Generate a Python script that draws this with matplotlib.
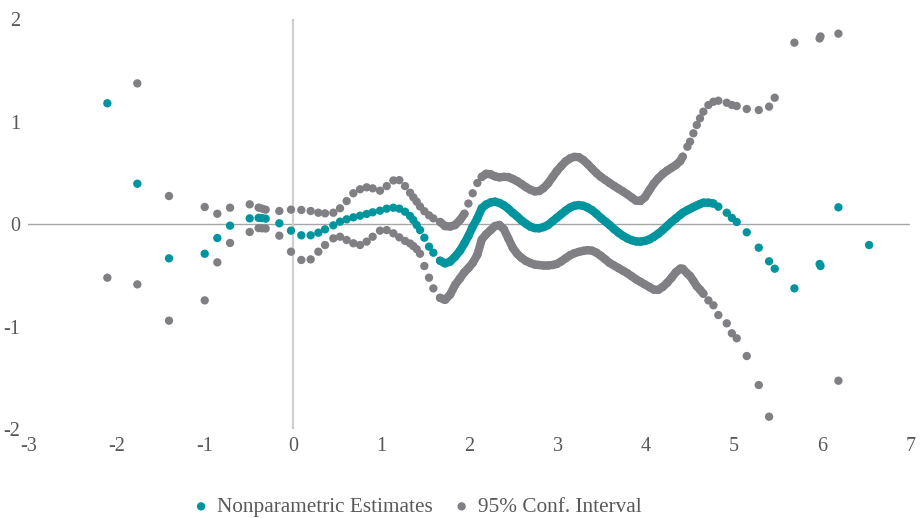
import numpy as np
import matplotlib.pyplot as plt

# x positions of the kernel-regression grid
x_vals = [
    -2.105, -1.765, -1.406, -1.001, -0.858, -0.714, -0.491, -0.39, -0.35, -0.31, -0.155, -0.023,
    0.094, 0.2, 0.287, 0.363, 0.457, 0.533, 0.608, 0.684, 0.76, 0.835, 0.903, 0.986,
    1.062, 1.138, 1.205, 1.27, 1.327, 1.364, 1.402, 1.44, 1.489, 1.542, 1.591, 1.667,
    1.723, 1.78, 1.837, 1.893, 1.943, 1.988, 2.037, 2.09,
    2.14, 2.19, 2.24, 2.29, 2.34, 2.39, 2.44, 2.49, 2.54, 2.59, 2.64, 2.69, 2.74, 2.79,
    2.84, 2.89, 2.94, 2.99, 3.04, 3.09, 3.14, 3.19, 3.24, 3.29, 3.34, 3.39, 3.44, 3.49,
    3.54, 3.59, 3.64, 3.69, 3.74, 3.79, 3.84, 3.89, 3.94, 3.99, 4.04, 4.09, 4.14, 4.19,
    4.24, 4.29, 4.34, 4.39,
    4.418, 4.471, 4.501, 4.539, 4.577, 4.614, 4.652, 4.709, 4.766,
    4.822, 4.917, 4.975, 5.03, 5.144, 5.28, 5.397, 5.461, 5.684, 5.97, 5.98, 6.183, 6.531,
]

estimates = [
    1.178, 0.393, -0.335, -0.29, -0.137, -0.016, 0.055, 0.06, 0.058, 0.052, 0.007, -0.065,
    -0.11, -0.11, -0.085, -0.052, -0.013, 0.023, 0.046, 0.065, 0.081, 0.098, 0.114, 0.13,
    0.15, 0.159, 0.15, 0.12, 0.078, 0.039, -0.01, -0.059, -0.134, -0.221, -0.28, -0.358,
    -0.384, -0.367, -0.319, -0.26, -0.188, -0.117, -0.026, 0.056,
    0.155, 0.19, 0.21, 0.218, 0.205, 0.183, 0.15, 0.11, 0.075, 0.035, 0.003, -0.025, -0.04, -0.042,
    -0.03, -0.01, 0.025, 0.06, 0.095, 0.13, 0.16, 0.178, 0.185, 0.178, 0.16, 0.135, 0.1, 0.06,
    0.025, -0.01, -0.05, -0.085, -0.115, -0.14, -0.158, -0.17, -0.172, -0.165, -0.15, -0.125, -0.095, -0.06,
    -0.02, 0.02, 0.055, 0.09,
    0.11, 0.135, 0.148, 0.165, 0.18, 0.195, 0.208, 0.208, 0.2,
    0.169, 0.11, 0.06, 0.02, -0.081, -0.231, -0.364, -0.436, -0.628, -0.39, -0.41, 0.163, -0.205,
]

ci_upper = [
    np.nan, 1.372, 0.273, 0.166, 0.1, 0.159, 0.192, 0.16, 0.15, 0.14, 0.127, 0.14,
    0.137, 0.127, 0.11, 0.104, 0.11, 0.153, 0.224, 0.3, 0.339, 0.358, 0.348, 0.325,
    0.37, 0.425, 0.428, 0.37, 0.305, 0.26, 0.218, 0.17, 0.125, 0.085, 0.055, 0.02,
    -0.02, -0.025, -0.01, 0.039, 0.1, 0.2, 0.3, 0.4,
    0.46, 0.49, 0.485, 0.465, 0.455, 0.46, 0.458, 0.44, 0.418, 0.39, 0.36, 0.335, 0.318, 0.322,
    0.35, 0.395, 0.455, 0.515, 0.565, 0.61, 0.64, 0.655, 0.652, 0.625, 0.585, 0.54, 0.497, 0.46,
    0.43, 0.4, 0.372, 0.345, 0.318, 0.29, 0.258, 0.228, 0.225, 0.262, 0.33, 0.395, 0.445, 0.487,
    0.52, 0.548, 0.575, 0.615,
    0.657, 0.754, 0.803, 0.885, 0.966, 1.031, 1.096, 1.161, 1.193,
    1.203, 1.183, 1.161, 1.151, 1.122, 1.112, 1.145, 1.232, 1.769, 1.81, 1.83, 1.857, np.nan,
]

ci_lower = [
    -0.524, -0.589, -0.943, -0.745, -0.374, -0.185, -0.078, -0.04, -0.042, -0.044, -0.114, -0.27,
    -0.351, -0.345, -0.27, -0.205, -0.14, -0.124, -0.156, -0.188, -0.205, -0.172, -0.124, -0.065,
    -0.059, -0.091, -0.13, -0.165, -0.19, -0.215, -0.245, -0.29, -0.41, -0.524, -0.628, -0.72,
    -0.74, -0.69, -0.595, -0.53, -0.47, -0.43, -0.38, -0.3,
    -0.15, -0.1, -0.06, -0.02, -0.01, -0.05, -0.14, -0.23, -0.29, -0.33, -0.36, -0.38, -0.395, -0.4,
    -0.405, -0.405, -0.4, -0.39, -0.365, -0.335, -0.305, -0.285, -0.272, -0.262, -0.255, -0.26, -0.28, -0.31,
    -0.345, -0.38, -0.405, -0.43, -0.455, -0.48, -0.51, -0.54, -0.565, -0.59, -0.615, -0.64, -0.642, -0.615,
    -0.575, -0.525, -0.47, -0.435,
    -0.437, -0.484, -0.507, -0.555, -0.606, -0.641, -0.68, -0.745, -0.793,
    -0.888, -0.969, -1.066, -1.115, -1.288, -1.571, -1.88, np.nan, np.nan, np.nan, np.nan, -1.529, np.nan,
]

x_ticks = [-3, -2, -1, 0, 1, 2, 3, 4, 5, 6, 7]
y_ticks = [-2, -1, 0, 1, 2]

TEAL = "#00959E"
GRAY = "#808084"
TEXT = "#595959"
DOT = 36   # marker area, pt^2
BAND = 6.0  # width of the dense stretch, pt

plt.rcParams["font.family"] = ["Liberation Serif", "DejaVu Serif"]
plt.rcParams["axes.unicode_minus"] = False

fig = plt.figure(figsize=(9.22, 5.18), dpi=100)
ax = fig.add_axes([0.0308, 0.1718, 0.9567, 0.7915])

x = np.array(x_vals)
upper = np.array(ci_upper)
lower = np.array(ci_lower)
est = np.array(estimates)


def band(lo, hi, y, color, z):
    # where the grid is dense the dots merge into a solid band
    m = (x >= lo) & (x <= hi)
    ax.plot(x[m], y[m], color=color, lw=BAND, solid_capstyle="round", zorder=z)


band(1.6, 1.95, upper, GRAY, 2)
band(2.1, 4.42, upper, GRAY, 2)
band(1.66, 4.67, lower, GRAY, 2)
band(1.66, 4.8, est, TEAL, 3)

ax.scatter(x, upper, s=DOT, color=GRAY, edgecolors="none", zorder=2,
           label="95% Conf. Interval")
ax.scatter(x, lower, s=DOT, color=GRAY, edgecolors="none", zorder=2)
ax.scatter(x, est, s=DOT, color=TEAL, edgecolors="none", zorder=4,
           label="Nonparametric Estimates")

# axis lines crossing at the origin
ax.axhline(0, color="#A6A6A6", lw=1.0, zorder=1)
ax.axvline(0, color="#CFCFCF", lw=1.6, zorder=1)

ax.set_xlim(-3, 7)
ax.set_ylim(-2, 2)
ax.set_xticks(x_ticks)
ax.set_yticks(y_ticks)
ax.tick_params(length=0, labelsize=14.5, labelcolor=TEXT, pad=6)
for s in ax.spines.values():
    s.set_visible(False)

handles, labels = ax.get_legend_handles_labels()
fig.legend(handles[::-1], labels[::-1], loc="center",
           bbox_to_anchor=(418 / 922, 1 - 507 / 518), ncol=2, frameon=False,
           fontsize=15.3, labelcolor=TEXT, handlelength=0.6, handletextpad=0.45,
           columnspacing=1.06, borderaxespad=0, borderpad=0)

fig.savefig("out.png", dpi=100)
